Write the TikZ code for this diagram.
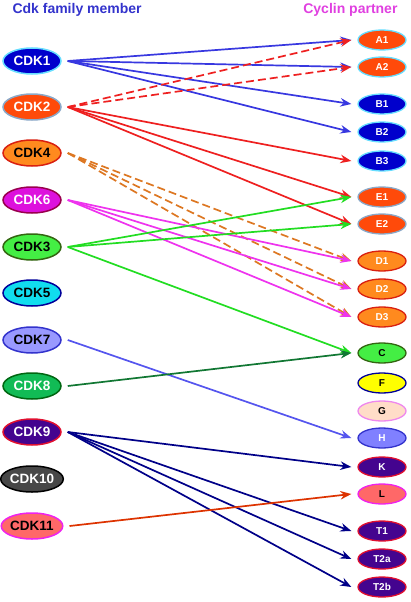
\documentclass[tikz,border=0pt]{standalone}
\usepackage{fontspec}
\setmainfont{Liberation Sans}
\usetikzlibrary{shapes.geometric,arrows.meta}
\definecolor{cBlue}{HTML}{0000CC}
\definecolor{cCyanB}{HTML}{66DDFF}
\definecolor{cOR}{HTML}{FF4A0A}
\definecolor{cGrayB}{HTML}{8AA8C8}
\definecolor{cOrange}{HTML}{FF8A1E}
\definecolor{cRedB}{HTML}{D92010}
\definecolor{cMag}{HTML}{DD11DD}
\definecolor{cMagB}{HTML}{99004D}
\definecolor{cLGreen}{HTML}{44EE44}
\definecolor{cLGreenB}{HTML}{336611}
\definecolor{cCyan}{HTML}{11DDEE}
\definecolor{cNavyB}{HTML}{000099}
\definecolor{cLav}{HTML}{9999FF}
\definecolor{cLavB}{HTML}{3333CC}
\definecolor{cGreen}{HTML}{11BB55}
\definecolor{cDGreenB}{HTML}{006611}
\definecolor{cIndigo}{HTML}{44048F}
\definecolor{cIndB}{HTML}{E01030}
\definecolor{cDGray}{HTML}{474747}
\definecolor{cSalmon}{HTML}{FF6868}
\definecolor{cPinkB}{HTML}{EE22EE}
\definecolor{cYellow}{HTML}{FFFF00}
\definecolor{cPeach}{HTML}{FFDDC8}
\definecolor{cPeachB}{HTML}{EE88EE}
\definecolor{cH}{HTML}{8080FF}
\definecolor{eBlue}{HTML}{3838E0}
\definecolor{eRed}{HTML}{EE2020}
\definecolor{eOrange}{HTML}{DD7722}
\definecolor{eMag}{HTML}{EE33EE}
\definecolor{eGreen}{HTML}{22DD22}
\definecolor{eLav}{HTML}{5555EE}
\definecolor{eDGreen}{HTML}{117733}
\definecolor{eNavy}{HTML}{000088}
\definecolor{eRust}{HTML}{DD3300}
\definecolor{tBlue}{HTML}{3333CC}
\definecolor{tMag}{HTML}{E040E0}
\begin{document}
\begin{tikzpicture}[x=1pt,y=-1pt,
  cdk/.style={ellipse, minimum width=58pt, minimum height=26pt, inner sep=0pt, line width=1.5pt, font=\fontsize{13.5}{14}\selectfont\bfseries},
  cyc/.style={ellipse, minimum width=48pt, minimum height=20pt, inner sep=0pt, line width=1.3pt, font=\fontsize{10}{11}\selectfont\bfseries},
  stBlue/.style={fill=cBlue, draw=cCyanB, text=white},
  stOR/.style={fill=cOR, draw=cCyanB, text=white},
  stORg/.style={fill=cOR, draw=cGrayB, text=white},
  stOrange/.style={fill=cOrange, draw=cRedB},
  stMag/.style={fill=cMag, draw=cMagB, text=white},
  stLGreen/.style={fill=cLGreen, draw=cLGreenB, text=black},
  stCyan/.style={fill=cCyan, draw=cNavyB, text=black},
  stLav/.style={fill=cLav, draw=cLavB},
  stGreen/.style={fill=cGreen, draw=cDGreenB, text=white},
  stInd/.style={fill=cIndigo, draw=cIndB, text=white},
  stGray/.style={fill=cDGray, draw=black, text=white},
  stSal/.style={fill=cSalmon, draw=cPinkB, text=black},
  link/.style={line width=1.7pt, -{Stealth[length=11pt,width=8.5pt]}},
  dlink/.style={link, dash pattern=on 8pt off 4pt},
  title/.style={font=\fontsize{14}{16}\selectfont\bfseries}
]
\useasboundingbox (0,0) rectangle (410,602);
\node[title, text=tBlue, anchor=west] (t1) at (9,10) {Cdk family member};
\node[title, text=tMag, anchor=east] (t2) at (401,10) {Cyclin partner};

% CDK nodes
\node[cdk, stBlue] (k1) at (32,61) {CDK1};
\node[cdk, stORg] (k2) at (32,107) {CDK2};
\node[cdk, stOrange, text=black] (k4) at (32,153) {CDK4};
\node[cdk, stMag] (k6) at (32,200) {CDK6};
\node[cdk, stLGreen] (k3) at (32,247) {CDK3};
\node[cdk, stCyan] (k5) at (32,293) {CDK5};
\node[cdk, stLav, text=black] (k7) at (32,340) {CDK7};
\node[cdk, stGreen] (k8) at (32,386) {CDK8};
\node[cdk, stInd] (k9) at (32,432) {CDK9};
\node[cdk, stGray] (k10) at (32,479) {CDK10};
\node[cdk, stSal] (k11) at (32,526) {CDK11};

% Cyclin nodes
\node[cyc, stOR] (A1) at (382,40) {A1};
\node[cyc, stOR] (A2) at (382,67) {A2};
\node[cyc, stBlue] (B1) at (382,104) {B1};
\node[cyc, stBlue] (B2) at (382,132) {B2};
\node[cyc, stBlue] (B3) at (382,161) {B3};
\node[cyc, stORg] (E1) at (382,197) {E1};
\node[cyc, stORg] (E2) at (382,224) {E2};
\node[cyc, stOrange, text=white] (D1) at (382,261) {D1};
\node[cyc, stOrange, text=white] (D2) at (382,289) {D2};
\node[cyc, stOrange, text=white] (D3) at (382,317) {D3};
\node[cyc, stLGreen] (C) at (382,353) {C};
\node[cyc, fill=cYellow, draw=cNavyB, text=black] (F) at (382,383) {F};
\node[cyc, fill=cPeach, draw=cPeachB, text=black] (G) at (382,411) {G};
\node[cyc, fill=cH, draw=cLavB, text=white] (H) at (382,438) {H};
\node[cyc, stInd] (K) at (382,467) {K};
\node[cyc, stSal] (L) at (382,494) {L};
\node[cyc, stInd] (T1) at (382,531) {T1};
\node[cyc, stInd] (T2a) at (382,559) {T2a};
\node[cyc, stInd] (T2b) at (382,587) {T2b};

% connectors
\foreach \t in {A1,A2,B1,B2}
  \draw[link, eBlue] ([xshift=6pt]k1.east) -- ([xshift=-6pt]\t.west);
\foreach \t in {A1,A2}
  \draw[dlink, eRed] ([xshift=6pt]k2.east) -- ([xshift=-6pt]\t.west);
\foreach \t in {B3,E1,E2}
  \draw[link, eRed] ([xshift=6pt]k2.east) -- ([xshift=-6pt]\t.west);
\foreach \t in {D1,D2,D3}
  \draw[dlink, eOrange] ([xshift=6pt]k4.east) -- ([xshift=-6pt]\t.west);
\foreach \t in {D1,D2,D3}
  \draw[link, eMag] ([xshift=6pt]k6.east) -- ([xshift=-6pt]\t.west);
\foreach \t in {E1,E2,C}
  \draw[link, eGreen] ([xshift=6pt]k3.east) -- ([xshift=-6pt]\t.west);
\draw[link, eLav] ([xshift=6pt]k7.east) -- ([xshift=-6pt]H.west);
\draw[link, eDGreen] ([xshift=6pt]k8.east) -- ([xshift=-6pt]C.west);
\foreach \t in {K,T1,T2a,T2b}
  \draw[link, eNavy] ([xshift=6pt]k9.east) -- ([xshift=-6pt]\t.west);
\draw[link, eRust] ([xshift=6pt]k11.east) -- ([xshift=-6pt]L.west);
\end{tikzpicture}
\end{document}
